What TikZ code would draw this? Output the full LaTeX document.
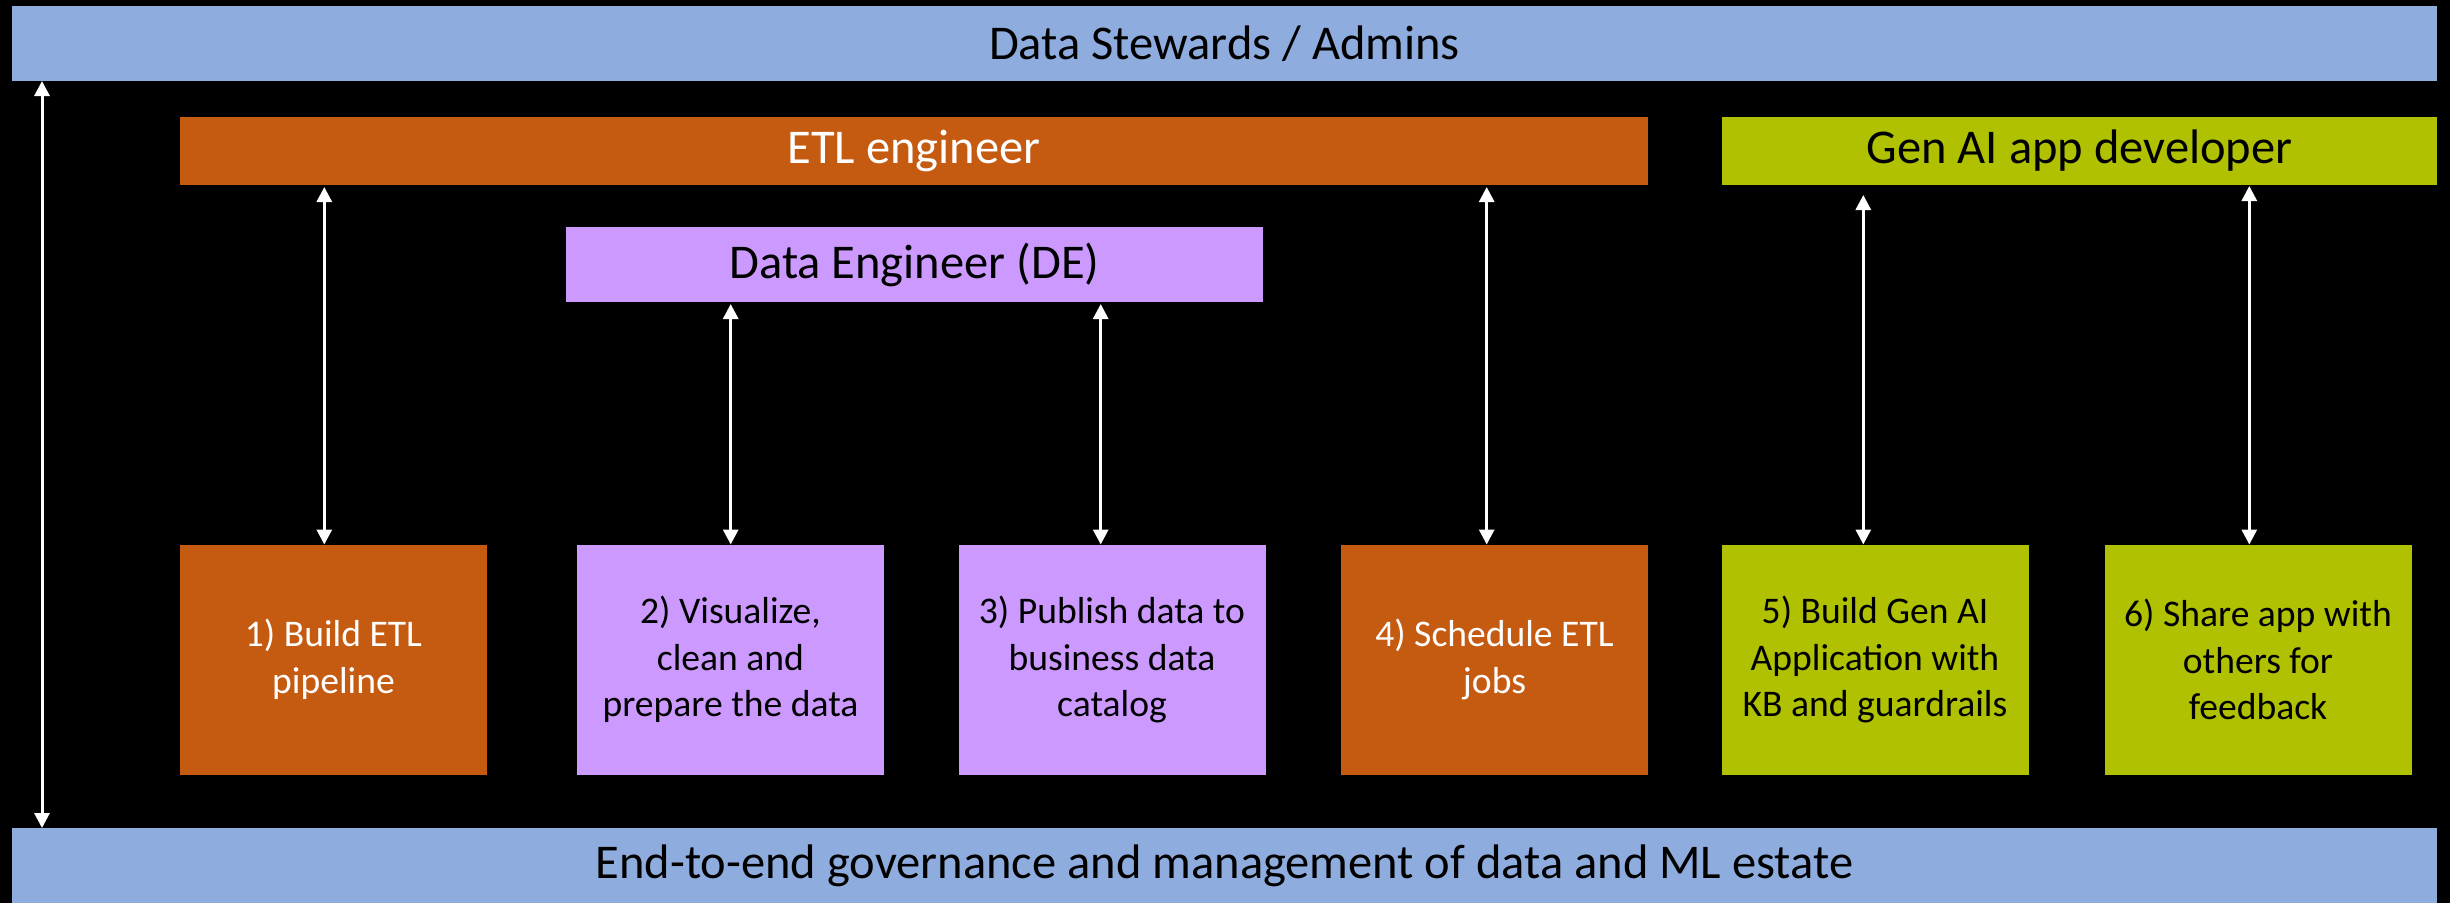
\documentclass[tikz,border=0pt]{standalone}
\usepackage{fontspec}
\setmainfont{Carlito}
\usetikzlibrary{arrows.meta}

\definecolor{stewardblue}{RGB}{143,172,222}
\definecolor{etlorange}{RGB}{197,90,17}
\definecolor{depurple}{RGB}{204,153,255}
\definecolor{genaigreen}{RGB}{175,193,0}

\begin{document}
\begin{tikzpicture}
    \tikzstyle{every node}+=[inner sep=0pt, outer sep=0pt]
    \tikzstyle{bar}=[minimum height=0.75cm, font=\fontsize{13.8}{16}\selectfont]
    \tikzstyle{stepbox}=[minimum width=3.07cm, minimum height=2.30cm, align=center, font=\fontsize{10.7}{13.3}\selectfont]
    \tikzstyle{arr}=[white, line width=0.03cm, {Triangle[width=0.15cm,length=0.15cm]}-{Triangle[width=0.15cm,length=0.15cm]}]
    \fill [black] (0,0) rectangle (24.5,-9.03);
    \useasboundingbox (0,0) rectangle (24.5,-9.03);
    \node [bar, fill=stewardblue, minimum width=24.25cm] (stewards) at (12.245,-0.435) {Data Stewards / Admins};
    \node [bar, fill=stewardblue, minimum width=24.25cm] (governance) at (12.245,-8.655) {End-to-end governance and management of data and ML estate};
    \node [bar, fill=etlorange, text=white, minimum width=14.68cm, minimum height=0.68cm] (etl) at (9.14,-1.51) {ETL engineer};
    \node [bar, fill=genaigreen, minimum width=7.15cm, minimum height=0.68cm] (genai) at (20.795,-1.51) {Gen AI app developer};
    \node [bar, fill=depurple, minimum width=6.97cm] (de) at (9.145,-2.645) {Data Engineer (DE)};
    \node [stepbox, fill=etlorange, text=white] (build) at (3.335,-6.595) {1) Build ETL\\pipeline};
    \node [stepbox, fill=depurple] (prepare) at (7.305,-6.595) {2) Visualize,\\clean and\\prepare the data};
    \node [stepbox, fill=depurple] (publish) at (11.12,-6.595) {3) Publish data to\\business data\\catalog};
    \node [stepbox, fill=etlorange, text=white] (schedule) at (14.945,-6.595) {4) Schedule ETL\\jobs};
    \node [stepbox, fill=genaigreen] (buildai) at (18.75,-6.595) {5) Build Gen AI\\Application with\\KB and guardrails};
    \node [stepbox, fill=genaigreen] (share) at (22.58,-6.595) {6) Share app with\\others for\\feedback};
    \draw [arr] (stewards.south -| 0.42,0) -- (governance.north -| 0.42,0);
    \draw [arr, shorten <=0.02cm] (etl.south -| 3.243,0) -- (build.north -| 3.243,0);
    \draw [arr, shorten <=0.02cm] (de.south -| 7.307,0) -- (prepare.north -| 7.307,0);
    \draw [arr, shorten <=0.02cm] (de.south -| 11.007,0) -- (publish.north -| 11.007,0);
    \draw [arr, shorten <=0.02cm] (etl.south -| 14.867,0) -- (schedule.north -| 14.867,0);
    \draw [arr, shorten <=0.1cm] (genai.south -| 18.633,0) -- (buildai.north -| 18.633,0);
    \draw [arr, shorten <=0.01cm] (genai.south -| 22.493,0) -- (share.north -| 22.493,0);
\end{tikzpicture}
\end{document}
